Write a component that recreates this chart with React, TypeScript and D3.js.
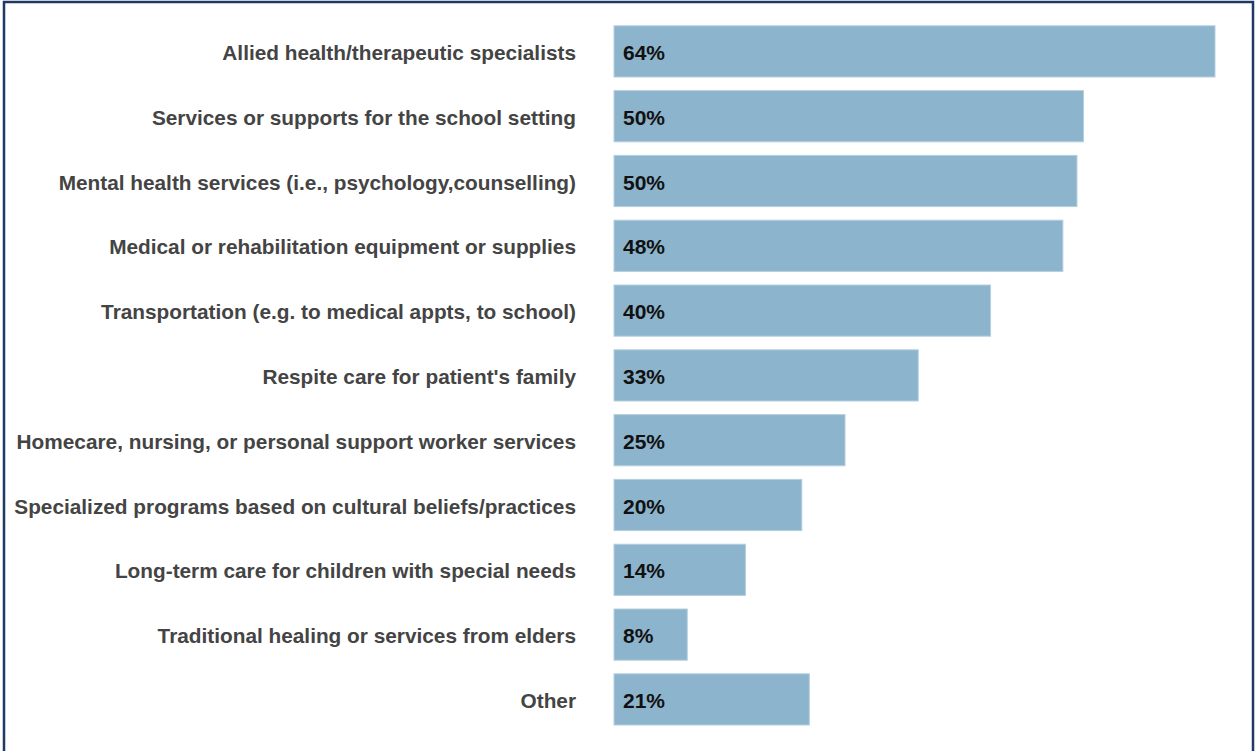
import React from "react";
import * as d3 from "d3";

const categories = [
  "Allied health/therapeutic specialists",
  "Services or supports for the school setting",
  "Mental health services (i.e., psychology,counselling)",
  "Medical or rehabilitation equipment or supplies",
  "Transportation (e.g. to medical appts, to school)",
  "Respite care for patient's family",
  "Homecare, nursing, or personal support worker services",
  "Specialized programs based on cultural beliefs/practices",
  "Long-term care for children with special needs",
  "Traditional healing or services from elders",
  "Other",
];
const values = [64, 50, 49.3, 47.8, 40.1, 32.4, 24.6, 20, 14, 7.8, 20.8];
const valueLabels = ["64%", "50%", "50%", "48%", "40%", "33%", "25%", "20%", "14%", "8%", "21%"];

const W = 1255;
const H = 751;

export default function App() {
  const x = d3.scaleLinear().domain([0, 64]).range([614, 1215]);
  const y = d3
    .scaleBand<string>()
    .domain(categories)
    .range([19, 19 + 64.8 * 11])
    .paddingInner(0.21)
    .paddingOuter(0.105);
  const font = "'Liberation Sans', Arial, Helvetica, sans-serif";
  return (
    <svg
      width={W}
      height={H}
      style={{ position: "absolute", left: 0, top: 0, background: "#fff" }}
    >
      <rect x={0} y={0} width={W} height={H} fill="#fff" />
      {categories.map((c, i) => {
        const yy = y(c)!;
        const bh = y.bandwidth();
        return (
          <g key={c}>
            <rect
              x={x(0)}
              y={yy}
              width={x(values[i]) - x(0)}
              height={bh}
              fill="#8cb4cc"
              stroke="#b5cfdf"
              strokeWidth={1}
            />
            <text
              x={576}
              y={yy + bh / 2 + 1}
              textAnchor="end"
              dominantBaseline="central"
              fontFamily={font}
              fontWeight="bold"
              fontSize={20.8}
              fill="#444"
            >
              {c}
            </text>
            <text
              x={623}
              y={yy + bh / 2 + 1}
              dominantBaseline="central"
              fontFamily={font}
              fontWeight="bold"
              fontSize={21}
              fill="#111"
            >
              {valueLabels[i]}
            </text>
          </g>
        );
      })}
      <rect
        x={4}
        y={2}
        width={1249}
        height={H + 10}
        fill="none"
        stroke="#1f3864"
        strokeWidth={2.5}
      />
    </svg>
  );
}
